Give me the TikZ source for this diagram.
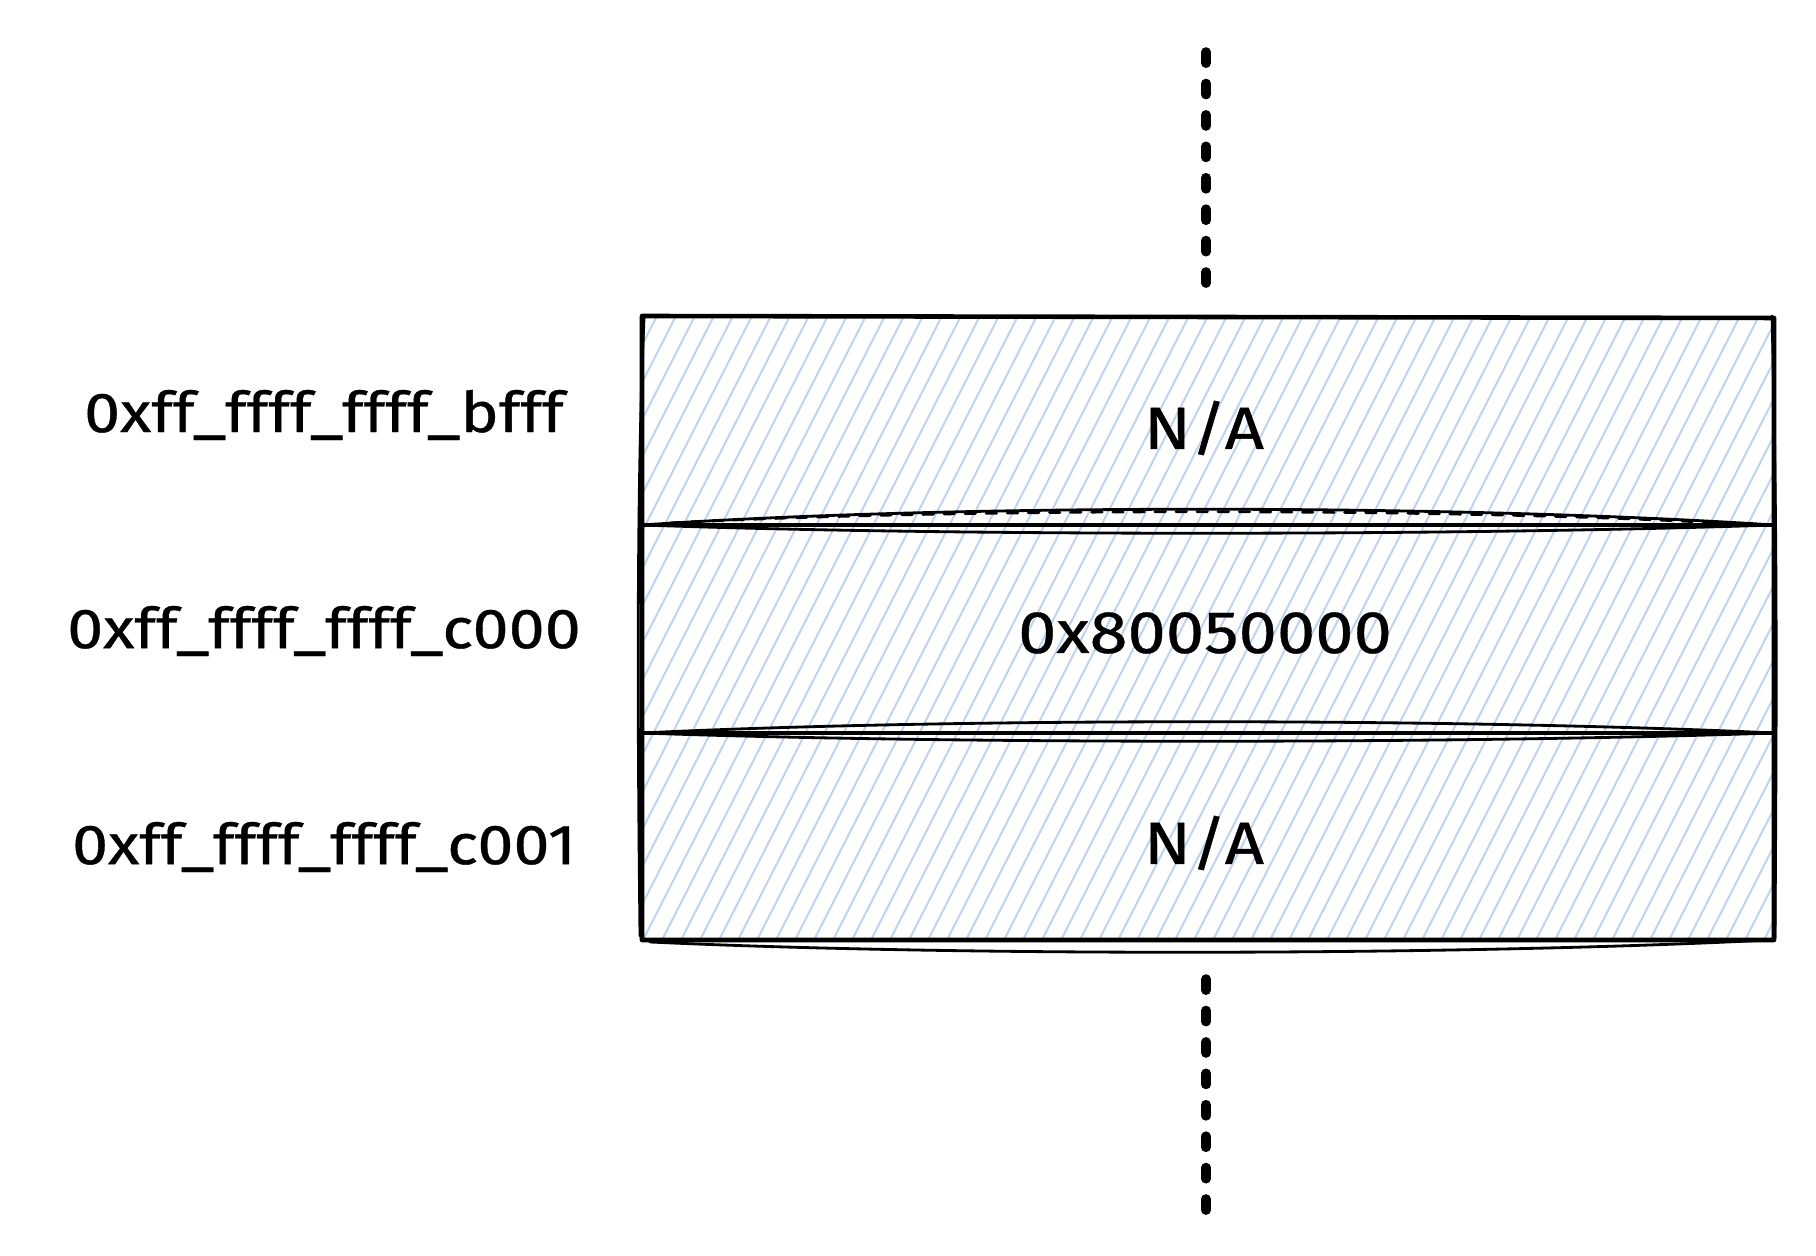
\documentclass[tikz,border=0pt]{standalone}
\usepackage{fontspec}
\newfontfamily\handfont[FakeStretch=1.15,FakeBold=0.6]{Fira Sans}
\definecolor{hatchblue}{RGB}{188,210,240}
\tikzset{
  edge/.style={line width=1.3pt, line cap=round, line join=round},
  sketch/.style={line width=0.8pt, line cap=round},
  hatch/.style={hatchblue, line width=0.55pt},
  gap/.style={line width=2.7pt, dash pattern=on 3.2pt off 5.74pt, line cap=round},
  addr/.style={font=\handfont\fontsize{16}{19}\selectfont},
  cell/.style={font=\handfont\fontsize{17}{21}\selectfont}
}

\begin{document}
\begin{tikzpicture}
	\useasboundingbox (0,0) rectangle (18.16,12.56);
	% hatching of the three rows
	\begin{scope}
		\clip (6.42,3.16) rectangle (17.74,9.38);
		\foreach \i in {0,...,78}
			\draw[hatch] (3.2+\i*0.19,3.16) -- ++(63:7);
	\end{scope}
	% box
	\draw[edge] (6.42,9.40) -- (17.74,9.38) -- (17.74,3.16) -- (6.42,3.16) -- cycle;
	\draw[sketch] (6.44,9.38) .. controls (6.36,7.5) and (6.38,5) .. (6.40,3.20);
	\draw[sketch] (17.72,9.40) .. controls (17.78,7) and (17.76,5) .. (17.75,3.18);
	\draw[sketch] (6.50,3.14) .. controls (9.5,3.00) and (14.5,3.00) .. (17.70,3.16);
	% dividers
	\coordinate (d1l) at (6.42,7.31);
	\coordinate (d1r) at (17.74,7.31);
	\coordinate (d2l) at (6.42,5.23);
	\coordinate (d2r) at (17.74,5.23);
	\draw[edge] (d1l) -- (d1r);
	\draw[sketch] (d1l) .. controls (9.5,7.52) and (14.5,7.52) .. (d1r);
	\draw[sketch, dashed] (6.7,7.33) .. controls (9.5,7.48) and (14.5,7.48) .. (17.2,7.33);
	\draw[sketch] (d1l) .. controls (9.5,7.20) and (14.5,7.20) .. (d1r);
	\draw[edge] (d2l) -- (d2r);
	\draw[sketch] (d2l) .. controls (9.5,5.38) and (14.5,5.38) .. (d2r);
	\draw[sketch] (d2l) .. controls (9.5,5.12) and (14.5,5.12) .. (d2r);
	% cell texts
	\node[cell] (upper) at (12.04,8.28) {N/A};
	\node[cell] (mmio) at (12.05,6.23) {0x80050000};
	\node[cell] (lower) at (12.04,4.13) {N/A};
	% addresses
	\node[addr] (addrA) at (3.24,8.41) {0xff\_ffff\_ffff\_bfff};
	\node[addr] (addrB) at (3.24,6.25) {0xff\_ffff\_ffff\_c000};
	\node[addr] (addrC) at (3.24,4.09) {0xff\_ffff\_ffff\_c001};
	% continuation dots
	\coordinate (topA) at (12.06,12.04);
	\coordinate (topB) at (12.06,9.71);
	\coordinate (botA) at (12.06,2.77);
	\coordinate (botB) at (12.06,0.44);
	\draw[gap] (topA) -- (topB);
	\draw[gap] (botA) -- (botB);
\end{tikzpicture}
\end{document}
